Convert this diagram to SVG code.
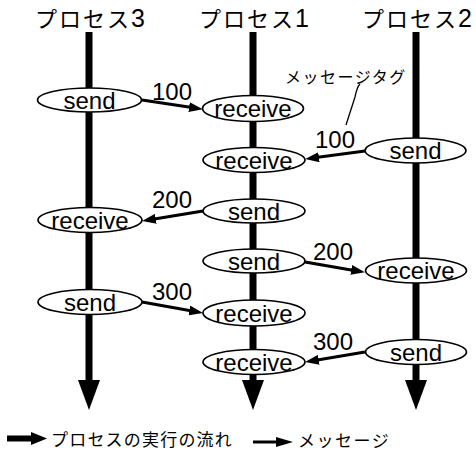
<svg xmlns="http://www.w3.org/2000/svg" width="476" height="451" viewBox="0 0 476 451">
<defs>
<marker id="ah" viewBox="0 0 14 10" refX="3" refY="5" markerWidth="14" markerHeight="10" markerUnits="userSpaceOnUse" orient="auto"><path d="M0,0 L14,5 L0,10 z" fill="#000"/></marker>
<style>
.title{font-family:"Noto Sans CJK JP",sans-serif;font-size:22px;letter-spacing:2px;text-anchor:middle;fill:#000}
.title tspan{font-family:"Liberation Sans",Arial,sans-serif;font-size:25px;letter-spacing:0}
.life{stroke:#000;stroke-width:7;fill:none}
.head{fill:#000}
.msg{stroke:#000;stroke-width:3;fill:none;marker-end:url(#ah)}
.ev ellipse{fill:#fff;stroke:#000;stroke-width:1.6}
.ev text{font-family:"Liberation Sans",Arial,sans-serif;font-size:24px;text-anchor:middle;fill:#000}
.num{font-family:"Liberation Sans",Arial,sans-serif;font-size:24px;fill:#000}
.jp{font-family:"Noto Sans CJK JP",sans-serif;font-size:16px;fill:#000}
.leg{font-family:"Noto Sans CJK JP",sans-serif;font-size:17px;fill:#000}
</style>
</defs>
<rect width="476" height="451" fill="#fff"/>
<g id="titles">
<text class="title" x="90" y="27">プロセス<tspan>3</tspan></text>
<text class="title" x="254" y="27">プロセス<tspan>1</tspan></text>
<text class="title" x="417" y="27">プロセス<tspan>2</tspan></text>
</g>
<g id="connectors">
<line class="life" x1="89" y1="32" x2="89" y2="384"/>
<polygon class="head" points="78,380 100,380 89,410"/>
<line class="life" x1="253" y1="32" x2="253" y2="384"/>
<polygon class="head" points="242,380 264,380 253,410"/>
<line class="life" x1="416" y1="32" x2="416" y2="384"/>
<polygon class="head" points="405,380 427,380 416,410"/>
<line class="msg" x1="142" y1="100" x2="192" y2="107.6"/>
<line class="msg" x1="365" y1="151" x2="316" y2="157.6"/>
<line class="msg" x1="203" y1="211" x2="152.9" y2="219.2"/>
<line class="msg" x1="305" y1="262" x2="354.1" y2="270.4"/>
<line class="msg" x1="142" y1="302" x2="192.2" y2="311"/>
<line class="msg" x1="365" y1="352" x2="315.9" y2="360.2"/>
<path d="M360,84 C357,87 356,92 355,97 L346,125" stroke="#000" stroke-width="1.3" fill="none"/>
</g>
<g id="p3-send1" class="ev"><ellipse cx="89.5" cy="100" rx="52" ry="12"/><text x="89.5" y="109">send</text></g>
<g id="p1-recv1" class="ev"><ellipse cx="253" cy="108.5" rx="50.5" ry="13"/><text x="253" y="117">receive</text></g>
<g id="p2-send1" class="ev"><ellipse cx="415.5" cy="150.5" rx="50.5" ry="12.5"/><text x="415.5" y="159">send</text></g>
<g id="p1-recv2" class="ev"><ellipse cx="254" cy="160" rx="51" ry="12.5"/><text x="254" y="168.5">receive</text></g>
<g id="p1-send1" class="ev"><ellipse cx="254" cy="211" rx="51" ry="12"/><text x="254" y="219.5">send</text></g>
<g id="p3-recv1" class="ev"><ellipse cx="90" cy="220" rx="52" ry="12.5"/><text x="90" y="228.5">receive</text></g>
<g id="p1-send2" class="ev"><ellipse cx="254" cy="261" rx="51" ry="12"/><text x="254" y="269.5">send</text></g>
<g id="p2-recv1" class="ev"><ellipse cx="416" cy="270.5" rx="50.5" ry="12.5"/><text x="416" y="279">receive</text></g>
<g id="p3-send2" class="ev"><ellipse cx="90" cy="302" rx="52" ry="12.5"/><text x="90" y="310.5">send</text></g>
<g id="p1-recv3" class="ev"><ellipse cx="254" cy="313" rx="51" ry="13"/><text x="254" y="321.5">receive</text></g>
<g id="p2-send2" class="ev"><ellipse cx="416" cy="352" rx="50.5" ry="12.5"/><text x="416" y="360.5">send</text></g>
<g id="p1-recv4" class="ev"><ellipse cx="254" cy="362" rx="51" ry="12.5"/><text x="254" y="370.5">receive</text></g>
<g id="labels">
<text class="num" x="152" y="100">100</text>
<text class="num" x="315" y="148">100</text>
<text class="num" x="152" y="208">200</text>
<text class="num" x="313" y="260">200</text>
<text class="num" x="152" y="300">300</text>
<text class="num" x="313" y="350">300</text>
<text class="jp" x="285" y="83" letter-spacing="1.5">メッセージタグ</text>
</g>
<g id="legend">
<line x1="7" y1="438.5" x2="34" y2="438.5" stroke="#000" stroke-width="6"/>
<polygon points="31,432 47,438.5 31,445" fill="#000"/>
<text class="leg" x="51" y="446" letter-spacing="1.2">プロセスの実行の流れ</text>
<line x1="253" y1="442" x2="278" y2="442" stroke="#000" stroke-width="3"/>
<polygon points="276,437 293,442 276,447" fill="#000"/>
<text class="leg" x="298" y="447" letter-spacing="1.5">メッセージ</text>
</g>
</svg>
